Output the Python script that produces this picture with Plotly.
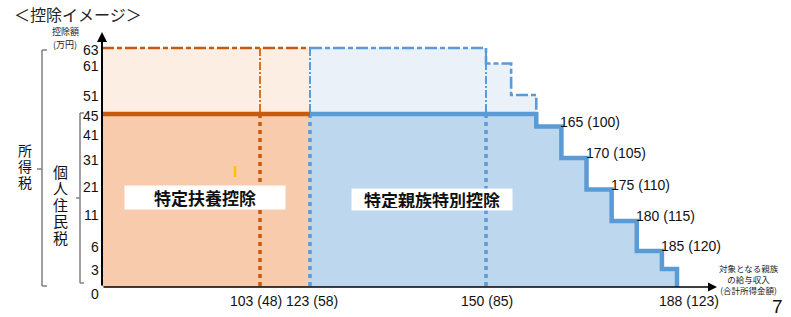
import numpy as np
import plotly.graph_objects as go

# ---------------- data (万円) ----------------
# 給与収入の区切り（各区分の上限）と対応する合計所得金額
step_salary = [150, 155, 160, 165, 170, 175, 180, 185, 188]
step_income = [85, 90, 95, 100, 105, 110, 115, 120, 123]
# 各区分の控除額
income_tax_deduction = [63, 61, 51, 41, 31, 21, 11, 6, 3]
resident_tax_deduction = [45, 45, 45, 41, 31, 21, 11, 6, 3]

# 特定扶養控除（給与収入123万円まで）
dependent_limit_salary = 123
dependent_income_tax = 63
dependent_resident_tax = 45

# 基準となる給与収入（旧上限・新上限・逓減開始）
marker_salary = [103, 123, 150]
marker_income = [48, 58, 85]

# 縦軸目盛
y_tick_values = [0, 3, 6, 11, 21, 31, 41, 45, 51, 61, 63]

# ---------------- schematic (non-linear) axis scales ----------------
X_SCALE_VAL = [0, 103, 123, 150, 188]
X_SCALE_POS = [0, 158, 208, 384, 575]
Y_SCALE_VAL = [0, 11, 61, 63]
Y_SCALE_POS = [0, 66, 223.5, 239]
X_AXIS_END = 615
Y_AXIS_END = 255

# vertical nudges (px) of the y tick labels relative to their levels
Y_LABEL_NUDGE = {0: -7, 3: -1, 6: 4, 11: 6, 21: 2.5, 31: -2, 41: -8.5,
                 45: -2, 51: -1, 61: -2.5, 63: -2}


def sx(v):
    return np.interp(v, X_SCALE_VAL, X_SCALE_POS)


def sy(v):
    return np.interp(v, Y_SCALE_VAL, Y_SCALE_POS)


# page-pixel helpers for items drawn outside the plotting area
W, H = 791, 317
ML, MR, MT, MB = 102, 74, 32, 30


def PX(px):
    return (px - ML) / (W - ML - MR)


def PY(py):
    return (H - MB - py) / (H - MT - MB)


# colours
OR_DARK = "#C55A11"
OR_MID = "#E2711D"
OR_FILL = "#F8CBAD"
OR_FILL_LIGHT = "#FCEEE3"
BL_LINE = "#5B9BD5"
BL_FILL = "#BDD7EE"
BL_FILL_LIGHT = "#EAF1F9"

NUM_FONT = "Liberation Sans, Arial, sans-serif"
JP_FONT = "Noto Sans CJK JP, sans-serif"


def step_path(start, ends, values, drop_to_zero=True):
    xs, ys = [], []
    s = start
    for e, v in zip(ends, values):
        xs += [s, e]
        ys += [v, v]
        s = e
    if drop_to_zero:
        xs.append(ends[-1])
        ys.append(0)
    return xs, ys


fig = go.Figure()

# ---- 特定扶養控除 areas ----
fig.add_trace(go.Scatter(
    x=sx([0, dependent_limit_salary, dependent_limit_salary, 0]),
    y=sy([dependent_resident_tax, dependent_resident_tax, dependent_income_tax, dependent_income_tax]),
    fill="toself", fillcolor=OR_FILL_LIGHT, mode="none", hoverinfo="skip"))
fig.add_trace(go.Scatter(
    x=sx([0, dependent_limit_salary]),
    y=sy([dependent_resident_tax, dependent_resident_tax]),
    fill="tozeroy", fillcolor=OR_FILL, mode="none", hoverinfo="skip"))

# ---- 特定親族特別控除 areas ----
it_x, it_y = step_path(dependent_limit_salary, step_salary, income_tax_deduction, drop_to_zero=False)
rt_x, rt_y = step_path(dependent_limit_salary, step_salary, resident_tax_deduction)

# upper band (income tax portion above the resident tax amount)
n_up = sum(1 for v in income_tax_deduction if v > dependent_resident_tax)
up_x = it_x[:2 * n_up] + [step_salary[n_up - 1], dependent_limit_salary]
up_y = it_y[:2 * n_up] + [dependent_resident_tax, dependent_resident_tax]
fig.add_trace(go.Scatter(x=sx(up_x), y=sy(up_y), fill="toself",
                         fillcolor=BL_FILL_LIGHT, mode="none", hoverinfo="skip"))
fig.add_trace(go.Scatter(x=sx(rt_x), y=sy(rt_y), fill="tozeroy",
                         fillcolor=BL_FILL, mode="none", hoverinfo="skip"))

# ---- dashed upper outlines (所得税) ----
DASH_UP = "12px,3px,5px,3px"
fig.add_trace(go.Scatter(
    x=sx([0, dependent_limit_salary]), y=sy([dependent_income_tax] * 2),
    mode="lines", line=dict(color=OR_DARK, width=2.6, dash=DASH_UP), hoverinfo="skip"))
up_line_x = it_x[:2 * n_up] + [step_salary[n_up - 1]]
up_line_y = it_y[:2 * n_up] + [dependent_resident_tax]
fig.add_trace(go.Scatter(
    x=sx(up_line_x), y=sy(up_line_y),
    mode="lines", line=dict(color=BL_LINE, width=2.6, dash=DASH_UP), hoverinfo="skip"))

# ---- vertical reference lines ----
for s in marker_salary:
    upper_col = OR_MID if s < dependent_limit_salary else BL_LINE
    lower_col = OR_DARK if s < dependent_limit_salary else BL_LINE
    fig.add_trace(go.Scatter(
        x=sx([s, s]), y=sy([dependent_income_tax, dependent_resident_tax]),
        mode="lines", line=dict(color=upper_col, width=2, dash="8px,2px,2px,2px"),
        hoverinfo="skip"))
    fig.add_trace(go.Scatter(
        x=sx([s, s]), y=sy([dependent_resident_tax, 0]),
        mode="lines", line=dict(color=lower_col, width=3.5, dash="4px,4px"),
        hoverinfo="skip"))

# ---- solid lines (住民税 / 共通部分) ----
fig.add_trace(go.Scatter(
    x=sx([0, dependent_limit_salary]), y=sy([dependent_resident_tax] * 2),
    mode="lines", line=dict(color=OR_DARK, width=4.5), hoverinfo="skip"))
fig.add_trace(go.Scatter(
    x=sx(rt_x), y=sy(rt_y),
    mode="lines", line=dict(color=BL_LINE, width=4.5), hoverinfo="skip"))

annotations = []

# axes with arrow heads
annotations.append(dict(x=X_AXIS_END, y=0, ax=0, ay=0, xref="x", yref="y",
                        axref="x", ayref="y", showarrow=True, arrowhead=2,
                        arrowsize=1.2, arrowwidth=1.5, arrowcolor="black", text=""))
annotations.append(dict(x=0, y=Y_AXIS_END, ax=0, ay=0, xref="x", yref="y",
                        axref="x", ayref="y", showarrow=True, arrowhead=2,
                        arrowsize=1, arrowwidth=2, arrowcolor="black", text=""))

# y tick labels
for v in y_tick_values:
    annotations.append(dict(
        x=0, y=sy(v), xref="x", yref="y", text=str(v), showarrow=False,
        xanchor="right", yanchor="middle", xshift=-1, yshift=Y_LABEL_NUDGE[v],
        font=dict(family=NUM_FONT, size=14, color="#111")))

# step labels: 給与収入（合計所得金額）
for s, inc, v in zip(step_salary, step_income, resident_tax_deduction):
    if 165 <= s <= 185:
        annotations.append(dict(
            x=sx(s), y=sy(v), xref="x", yref="y", text=f"{s} ({inc})",
            showarrow=False, xanchor="left", yanchor="middle", xshift=-3, yshift=5,
            font=dict(family=NUM_FONT, size=14, color="#111")))

# x-axis labels
x_label_salary = marker_salary + [step_salary[-1]]
x_label_income = marker_income + [step_income[-1]]
x_label_shift = {103: -4, 123: 2, 150: 1, 188: 12}
for s, inc in zip(x_label_salary, x_label_income):
    annotations.append(dict(
        x=sx(s), y=0, xref="x", yref="y", text=f"{s} ({inc})", showarrow=False,
        xanchor="center", yanchor="middle", xshift=x_label_shift[s], yshift=-14,
        font=dict(family=NUM_FONT, size=14, color="#111")))


def page_text(txt, px, py, size, family=JP_FONT, color="#111", **kw):
    d = dict(x=PX(px), y=PY(py), xref="paper", yref="paper", text=txt,
             showarrow=False, xanchor="center", yanchor="middle",
             font=dict(family=family, size=size, color=color))
    d.update(kw)
    annotations.append(d)


# boxed area labels
page_text("<b>特定扶養控除</b>", 205, 197.5, 17, bgcolor="white",
          width=156, height=19, borderpad=2)
page_text("<b>特定親族特別控除</b>", 432, 199, 17, bgcolor="white",
          width=156, height=17, borderpad=2)

# title and unit
page_text("＜控除イメージ＞", 12, 0, 16, color="#222", xanchor="left", yanchor="top")
page_text("控除額", 65, 31, 9, color="#222")
page_text("(万円)", 65, 44, 9, color="#222")

# x-axis title
page_text("対象となる親族<br>の給与収入<br>(合計所得金額)", 749, 279, 8.5, color="#222")

# page number
page_text("7", 777, 306.5, 19, family="Liberation Sans, sans-serif")

# vertical bracket labels (one character per row)
for k, ch in enumerate("所得税"):
    page_text(ch, 25, 150 + 16 * k, 14)
for k, ch in enumerate("個人住民税"):
    page_text(ch, 60, 171 + 16.5 * k, 15)

shapes = []


def seg(x0, y0, x1, y1, color="#808080", width=1.5):
    shapes.append(dict(type="line", xref="paper", yref="paper",
                       x0=PX(x0), y0=PY(y0), x1=PX(x1), y1=PY(y1),
                       line=dict(color=color, width=width)))


# 所得税 bracket
seg(47, 50, 42, 50)
seg(42, 50, 42, 286)
seg(42, 286, 47, 286)
seg(42, 169, 37, 169)
# 個人住民税 bracket
seg(84, 113, 80, 113)
seg(80, 113, 80, 283)
seg(80, 283, 84, 283)
seg(80, 198, 76, 198)
# small yellow tick
seg(235, 166, 235, 177, color="#FFC000", width=2.5)

fig.update_layout(
    width=W, height=H,
    margin=dict(l=ML, r=MR, t=MT, b=MB, pad=0),
    paper_bgcolor="white", plot_bgcolor="white",
    showlegend=False,
    xaxis=dict(range=[0, X_AXIS_END], showgrid=False, zeroline=False,
               showticklabels=False, showline=False, fixedrange=True),
    yaxis=dict(range=[0, Y_AXIS_END], showgrid=False, zeroline=False, showline=False,
               showticklabels=False, fixedrange=True),
    annotations=annotations,
    shapes=shapes,
)

fig.write_html("out.html")
